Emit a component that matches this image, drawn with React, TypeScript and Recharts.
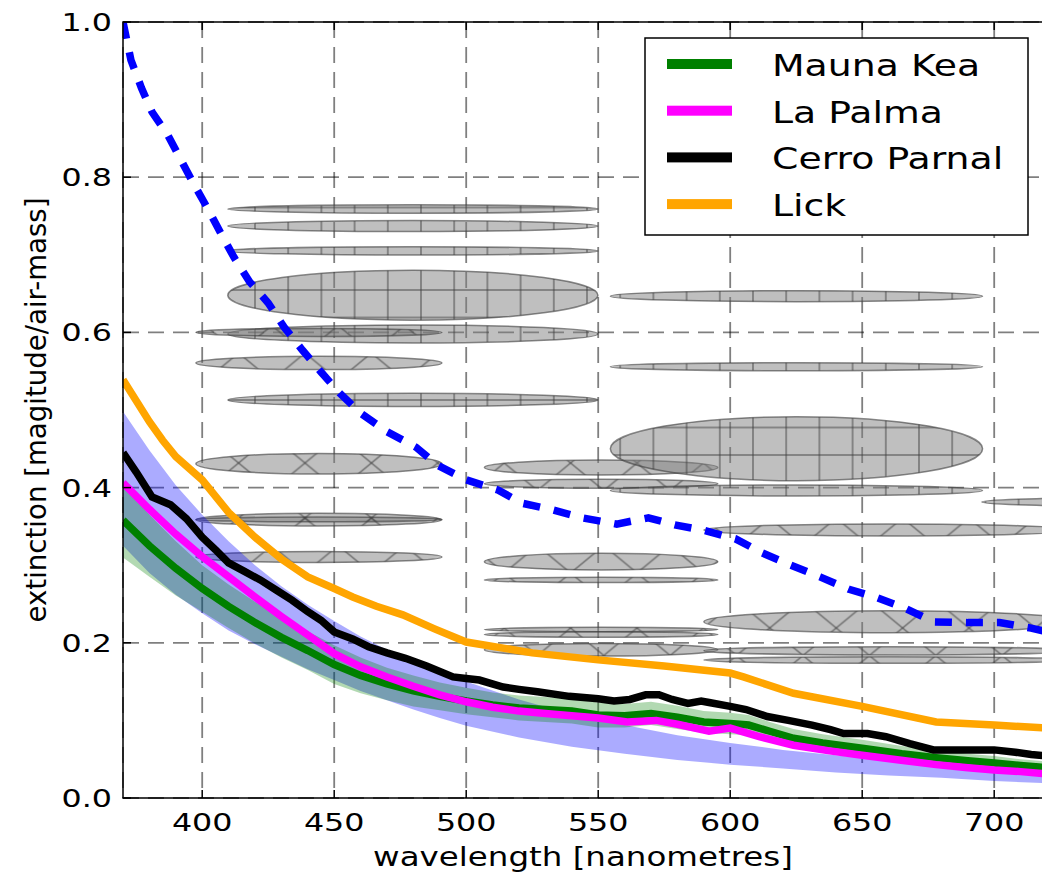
import React from "react";
import {
  Area,
  CartesianGrid,
  ComposedChart,
  Legend,
  Line,
  ReferenceArea,
  XAxis,
  YAxis,
} from "recharts";

// blue dashed model curve
const modelWavelength = [
  370, 373, 377, 381, 387, 392, 397, 402, 407, 412, 418, 425, 431, 438, 445,
  452, 460, 470, 481, 489, 500, 512, 521, 533, 544, 557, 569, 579, 590, 602,
  612, 623, 634, 645, 655, 666, 677, 690, 702, 714, 720,
];
const modelExtinction = [
  1.0, 0.951, 0.915, 0.884, 0.854, 0.822, 0.79, 0.76, 0.728, 0.697, 0.665,
  0.638, 0.607, 0.577, 0.549, 0.522, 0.496, 0.472, 0.452, 0.429, 0.41, 0.397,
  0.38, 0.371, 0.361, 0.353, 0.361, 0.352, 0.345, 0.334, 0.316, 0.3, 0.285,
  0.269, 0.259, 0.245, 0.227, 0.226, 0.226, 0.219, 0.214,
];

// light blue band
const bandWavelength = [
  370, 380, 390, 400, 410, 420, 430, 440, 450, 460, 470, 480, 490, 500, 520,
  540, 560, 580, 600, 620, 640, 660, 680, 700, 720,
];
const bandHigh = [
  0.498, 0.448, 0.403, 0.365, 0.331, 0.3, 0.273, 0.249, 0.228, 0.208, 0.191,
  0.176, 0.162, 0.15, 0.127, 0.108, 0.094, 0.081, 0.071, 0.062, 0.055, 0.049,
  0.043, 0.039, 0.034,
];
const bandLow = [
  0.325, 0.29, 0.262, 0.238, 0.216, 0.198, 0.182, 0.166, 0.152, 0.138, 0.126,
  0.114, 0.103, 0.093, 0.078, 0.066, 0.057, 0.049, 0.043, 0.038, 0.033, 0.029,
  0.026, 0.022, 0.019,
];

const maunaKeaWavelength = [
  370, 380, 390, 400, 410, 420, 430, 440, 450, 460, 470, 480, 490, 500, 510,
  520, 530, 540, 550, 560, 570, 580, 590, 600, 607, 615, 624, 635, 650, 665,
  678, 690, 700, 710, 720,
];
const maunaKea = [
  0.358, 0.325, 0.296, 0.27, 0.247, 0.226, 0.207, 0.19, 0.172, 0.158, 0.147,
  0.138, 0.131, 0.125, 0.12, 0.116, 0.114, 0.112, 0.107, 0.106, 0.109, 0.104,
  0.098, 0.096, 0.094, 0.086, 0.077, 0.071, 0.064, 0.057, 0.052, 0.048, 0.045,
  0.042, 0.039,
];
const maunaKeaError = [
  0.048, 0.04, 0.035, 0.03, 0.028, 0.027, 0.026, 0.025, 0.025, 0.023, 0.021,
  0.02, 0.018, 0.017, 0.016, 0.016, 0.016, 0.016, 0.016, 0.015, 0.015, 0.015,
  0.014, 0.014, 0.013, 0.012, 0.012, 0.011, 0.011, 0.01, 0.01, 0.009, 0.009,
  0.008, 0.008,
];

const laPalmaWavelength = [
  370, 380, 390, 400, 410, 420, 430, 440, 450, 460, 470, 480, 490, 500, 510,
  520, 530, 540, 550, 561, 572, 580, 592, 600, 611, 624, 637, 650, 664, 678,
  690, 700, 710, 720,
];
const laPalma = [
  0.406, 0.372, 0.34, 0.311, 0.285, 0.259, 0.234, 0.21, 0.186, 0.169, 0.156,
  0.144, 0.133, 0.124, 0.117, 0.112, 0.109, 0.106, 0.103, 0.098, 0.1, 0.095,
  0.086, 0.09, 0.079, 0.068, 0.061, 0.055, 0.049, 0.043, 0.039, 0.036, 0.034,
  0.031,
];

const cerroWavelength = [
  370, 375, 381, 388, 394, 400, 405, 410, 416, 422, 428, 434, 440, 445, 450,
  457, 463, 470, 477, 485, 495, 500, 505, 514, 520, 527, 539, 550, 556, 562,
  568, 573, 578, 584, 589, 592, 600, 606, 614, 622, 631, 638, 643, 652, 659,
  668, 677, 690, 700, 708, 714, 720,
];
const cerroParnal = [
  0.445, 0.42, 0.388, 0.378, 0.36, 0.336, 0.32, 0.303, 0.292, 0.281, 0.268,
  0.255, 0.24, 0.229, 0.214, 0.205, 0.195, 0.187, 0.18, 0.17, 0.156, 0.154,
  0.152, 0.143, 0.14, 0.137, 0.131, 0.128, 0.125, 0.127, 0.133, 0.133, 0.127,
  0.122, 0.125, 0.123, 0.118, 0.114, 0.105, 0.1, 0.094, 0.088, 0.083, 0.083,
  0.079, 0.07, 0.062, 0.062, 0.062, 0.059, 0.056, 0.054,
];

const lickWavelength = [
  370, 380, 385, 390, 400, 410, 420, 430, 440, 450, 457, 466, 476, 488, 500,
  525, 550, 575, 600, 605, 624, 650, 678, 700, 720,
];
const lick = [
  0.539, 0.485, 0.461, 0.44, 0.41, 0.368, 0.336, 0.308, 0.285, 0.27, 0.259,
  0.247, 0.236, 0.218, 0.201, 0.187, 0.178, 0.17, 0.161, 0.156, 0.135, 0.118,
  0.098, 0.094, 0.09,
];

// grey hatched ellipses: centre, size, hatch
const ellipseX = [
  479.8, 479.8, 479.8, 479.8, 479.8, 479.8,
  444.2, 444.2, 444.2, 444.2, 444.2, 444.2,
  551.1, 551.1, 551.1, 551.1, 551.1, 551.1, 551.1,
  625.1, 625.1, 625.1, 625.1,
  660, 660, 660, 660,
  765.8,
];
const ellipseY = [
  0.759, 0.737, 0.705, 0.648, 0.598, 0.513,
  0.6, 0.5606, 0.4308, 0.3587, 0.359, 0.3106,
  0.4259, 0.405, 0.3045, 0.281, 0.2171, 0.2107, 0.1911,
  0.6467, 0.5558, 0.4501, 0.3963,
  0.3454, 0.2272, 0.1897, 0.1778,
  0.3814,
];
const ellipseWidth = [
  140.2, 140.2, 140.2, 140.2, 140.2, 140.2,
  93.2, 93.2, 93.2, 93.2, 93.2, 93.2,
  88.4, 88.4, 88.4, 88.4, 88.4, 88.4, 88.4,
  141, 141, 141, 141,
  140, 140, 140, 140,
  141,
];
const ellipseHeight = [
  0.0107, 0.0142, 0.0107, 0.0644, 0.0232, 0.0171,
  0.0103, 0.0171, 0.0266, 0.0163, 0.006, 0.0142,
  0.0193, 0.0116, 0.0215, 0.0069, 0.0057, 0.0072, 0.0163,
  0.0142, 0.0103, 0.0825, 0.0142,
  0.0155, 0.0284, 0.0107, 0.0086,
  0.012,
];
const ellipseHatch = [
  "+", "+", "+", "+", "+", "+",
  "x", "x", "x", "x", "x", "x",
  "x", "x", "x", "x", "x", "x", "x",
  "+", "+", "+", "+",
  "x", "x", "x", "x",
  "+",
];

const legendNames = ["Mauna Kea", "La Palma", "Cerro Parnal", "Lick"];
const legendColors = ["#008000", "#ff00ff", "#000000", "#ffa500"];

const xTicks = [400, 450, 500, 550, 600, 650, 700];
const yTicks = [0, 0.2, 0.4, 0.6, 0.8, 1.0];

const PLOT_TOP = 22;
const PLOT_BOTTOM = 798;
const PLOT_LEFT = 123;
const FONT = "DejaVu Sans";

const toPoints = (xs: number[], ys: number[]) =>
  xs.map((x, i) => ({ x, y: ys[i] }));

const modelData = toPoints(modelWavelength, modelExtinction);
const bandData = bandWavelength.map((x, i) => ({
  x,
  range: [bandLow[i], bandHigh[i]],
}));
const maunaKeaBand = maunaKeaWavelength.map((x, i) => ({
  x,
  range: [maunaKea[i] - maunaKeaError[i], maunaKea[i] + maunaKeaError[i]],
}));
const maunaKeaData = toPoints(maunaKeaWavelength, maunaKea);
const laPalmaData = toPoints(laPalmaWavelength, laPalma);
const cerroData = toPoints(cerroWavelength, cerroParnal);
const lickData = toPoints(lickWavelength, lick);

function XTick(props: any) {
  const { x, payload } = props;
  return (
    <g>
      <line x1={x} x2={x} y1={PLOT_BOTTOM} y2={PLOT_BOTTOM - 8} stroke="#000" strokeWidth={1.5} />
      <line x1={x} x2={x} y1={PLOT_TOP} y2={PLOT_TOP + 8} stroke="#000" strokeWidth={1.5} />
      <text
        transform={`translate(${x},831) scale(1.27,1)`}
        textAnchor="middle"
        fontFamily={FONT}
        fontSize={25}
        fill="#000"
      >
        {payload.value}
      </text>
    </g>
  );
}

function YTick(props: any) {
  const { y, payload } = props;
  return (
    <g>
      <line x1={PLOT_LEFT} x2={PLOT_LEFT + 8} y1={y} y2={y} stroke="#000" strokeWidth={1.5} />
      <text
        transform={`translate(112,${y + 9}) scale(1.27,1)`}
        textAnchor="end"
        fontFamily={FONT}
        fontSize={25}
        fill="#000"
      >
        {Number(payload.value).toFixed(1)}
      </text>
    </g>
  );
}

function XLabel(props: any) {
  const vb = props.viewBox;
  const cx = vb ? vb.x + vb.width / 2 - 2 : 583;
  return (
    <text
      transform={`translate(${cx},866) scale(1.25,1)`}
      textAnchor="middle"
      fontFamily={FONT}
      fontSize={26}
      fill="#000"
    >
      wavelength [nanometres]
    </text>
  );
}

function YLabel(props: any) {
  const vb = props.viewBox;
  const cy = vb ? vb.y + vb.height / 2 : 410;
  return (
    <text
      transform={`translate(46,${cy}) rotate(-90) scale(1,1.15)`}
      textAnchor="middle"
      fontFamily={FONT}
      fontSize={25}
      textLength={425}
      lengthAdjust="spacingAndGlyphs"
      fill="#000"
    >
      extinction [magitude/air-mass]
    </text>
  );
}

function HatchedEllipse(props: any) {
  const { x, y, width, height, hatch } = props;
  if (width == null || height == null) return null;
  const cx = x + width / 2;
  const cy = y + height / 2;
  const rx = Math.abs(width / 2);
  const ry = Math.abs(height / 2);
  return (
    <g>
      <ellipse cx={cx} cy={cy} rx={rx} ry={ry} fill="rgba(128,128,128,0.5)" />
      <ellipse
        cx={cx}
        cy={cy}
        rx={rx}
        ry={ry}
        fill={hatch === "+" ? "url(#hatchPlus)" : "url(#hatchCross)"}
        stroke="rgba(60,60,60,0.6)"
        strokeWidth={1.5}
      />
    </g>
  );
}

function LegendBox() {
  return (
    <svg width={386} height={200} style={{ display: "block" }}>
      <rect x={1} y={1} width={383} height={197} fill="#fff" stroke="#000" strokeWidth={1.5} />
      {legendNames.map((name, i) => (
        <g key={name}>
          <rect x={23} y={22 + i * 46.7} width={65} height={10} fill={legendColors[i]} />
          <text
            transform={`translate(128,${39 + i * 46.7}) scale(1.22,1)`}
            fontFamily={FONT}
            fontSize={31}
            fill="#000"
          >
            {name}
          </text>
        </g>
      ))}
    </svg>
  );
}

export default function App() {
  return (
    <div
      style={{
        position: "absolute",
        left: 0,
        top: 0,
        width: 1042,
        height: 874,
        overflow: "hidden",
        background: "#fff",
      }}
    >
      <ComposedChart
        width={1060}
        height={874}
        margin={{ top: 22, right: 13, bottom: 0, left: 0 }}
      >
        <defs>
          <pattern
            id="hatchPlus"
            patternUnits="userSpaceOnUse"
            x={238.4}
            y={276.25}
            width={33.2}
            height={27.5}
          >
            <line x1={16.6} x2={16.6} y1={0} y2={27.5} stroke="rgba(60,60,60,0.6)" strokeWidth={1.5} />
            <line x1={0} x2={33.2} y1={13.75} y2={13.75} stroke="rgba(60,60,60,0.6)" strokeWidth={1.5} />
          </pattern>
          <pattern
            id="hatchCross"
            patternUnits="userSpaceOnUse"
            x={271.8}
            y={435.5}
            width={66.4}
            height={55}
          >
            <line x1={0} y1={0} x2={66.4} y2={55} stroke="rgba(60,60,60,0.6)" strokeWidth={1.5} />
            <line x1={0} y1={55} x2={66.4} y2={0} stroke="rgba(60,60,60,0.6)" strokeWidth={1.5} />
          </pattern>
        </defs>

        <CartesianGrid stroke="rgba(0,0,0,0.5)" strokeWidth={1.8} strokeDasharray="16 9" />

        <XAxis
          dataKey="x"
          type="number"
          domain={[370, 720]}
          ticks={xTicks}
          interval={0}
          allowDataOverflow
          axisLine={false}
          tickLine={false}
          height={76}
          tick={<XTick />}
          label={<XLabel />}
        />
        <YAxis
          type="number"
          domain={[0, 1]}
          ticks={yTicks}
          interval={0}
          allowDataOverflow
          axisLine={false}
          tickLine={false}
          width={123}
          tick={<YTick />}
          label={<YLabel />}
        />

        {ellipseX.map((cx, i) => (
          <ReferenceArea
            key={`ellipse-${i}`}
            x1={cx - ellipseWidth[i] / 2}
            x2={cx + ellipseWidth[i] / 2}
            y1={ellipseY[i] - ellipseHeight[i] / 2}
            y2={ellipseY[i] + ellipseHeight[i] / 2}
            ifOverflow="hidden"
            zIndex={50}
            shape={(p: any) => <HatchedEllipse {...p} hatch={ellipseHatch[i]} />}
          />
        ))}

        <Area
          data={bandData}
          dataKey="range"
          type="linear"
          stroke="none"
          fill="#0000ff"
          fillOpacity={0.33}
          isAnimationActive={false}
          dot={false}
          activeDot={false}
          legendType="none"
        />
        <Area
          data={maunaKeaBand}
          dataKey="range"
          type="linear"
          stroke="none"
          fill="#008000"
          fillOpacity={0.3}
          isAnimationActive={false}
          dot={false}
          activeDot={false}
          legendType="none"
        />

        <Line data={maunaKeaData} dataKey="y" name="Mauna Kea" stroke="#008000" strokeWidth={7.5} dot={false} activeDot={false} isAnimationActive={false} />
        <Line data={laPalmaData} dataKey="y" name="La Palma" stroke="#ff00ff" strokeWidth={7.5} dot={false} activeDot={false} isAnimationActive={false} />
        <Line data={cerroData} dataKey="y" name="Cerro Parnal" stroke="#000000" strokeWidth={7.5} dot={false} activeDot={false} isAnimationActive={false} />
        <Line data={lickData} dataKey="y" name="Lick" stroke="#ffa500" strokeWidth={7.5} dot={false} activeDot={false} isAnimationActive={false} />
        <Line
          data={modelData}
          dataKey="y"
          stroke="#0000ff"
          strokeWidth={7.5}
          strokeDasharray="17 14"
          dot={false}
          activeDot={false}
          isAnimationActive={false}
          legendType="none"
        />

        <ReferenceArea
          x1={370}
          x2={720}
          y1={0}
          y2={1}
          fill="none"
          fillOpacity={0}
          stroke="#000"
          strokeWidth={1.5}
          ifOverflow="visible"
          zIndex={900}
        />

        <Legend
          layout="horizontal"
          verticalAlign="middle"
          align="center"
          content={<LegendBox />}
          wrapperStyle={{ left: 644, top: 37, width: 386, height: 200 }}
        />
      </ComposedChart>
    </div>
  );
}
